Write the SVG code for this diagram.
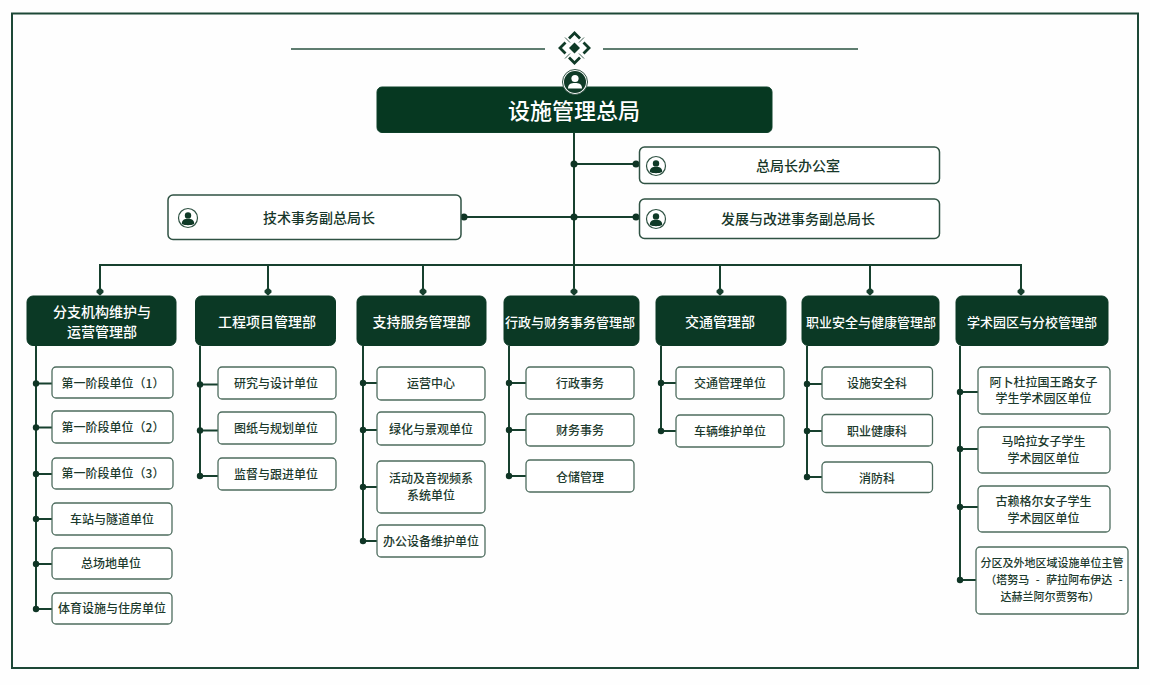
<svg xmlns="http://www.w3.org/2000/svg" xmlns:xlink="http://www.w3.org/1999/xlink" width="1150" height="685" viewBox="0 0 1150 685">
<style>
text{font-family:"Noto Sans CJK SC","Noto Sans",sans-serif;text-anchor:middle;dominant-baseline:central;font-weight:500;transform:translateY(-1px)}
.root{fill:#063821;stroke:#0d4029;stroke-width:1}
.dept{fill:#0b3925;stroke:#0b3925;stroke-width:1}
.dept-t{fill:#fff;font-size:14px}
.dept-s{fill:#fff;font-size:13px}
.side{fill:#fff;stroke:#2f5243;stroke-width:1.5}
.side-t{fill:#17372a;font-size:14px}
.unit{fill:#fff;stroke:#4d6c5e;stroke-width:1.3}
.unit-t{fill:#1c3a2d;font-size:12px}
.unit-s{fill:#1c3a2d;font-size:11px}
.conn{fill:none;stroke:#17402e;stroke-width:2}
.dot{fill:#0f3525}
.chev{fill:none;stroke:#0f3a27;stroke-width:2.800}
.tick{fill:none;stroke:#0f3a27;stroke-width:.8}
</style>
<defs>
<path id="head" d="M0 -8.500L3.500 -5.500V-3.500L0 -.2L-3.500 -3.500V-5.500Z" fill="#17402e"/>
<g id="person-dark">
<circle r="9.500" fill="#fff" stroke="#2f5243" stroke-width="1.200"/>
<circle cy="-2.600" r="3.200" fill="#0f3a27"/>
<path d="M-6.200 6C-6.200 1.800-3.400 .8 0 .8S6.200 1.800 6.200 6C3 7.600-3 7.600-6.200 6Z" fill="#0f3a27"/>
</g>
</defs>
<rect x="0" y="0" width="1150" height="685" fill="#fefefe"/>
<rect x="12" y="13.500" width="1126" height="654.500" fill="none" stroke="#1d4837" stroke-width="2"/>

<g id="ornament">
<line x1="291" y1="49" x2="545" y2="49" stroke="#2a5241" stroke-width="1.500"/>
<line x1="603" y1="49" x2="858" y2="49" stroke="#2a5241" stroke-width="1.500"/>
<path class="chev" d="M569 38.500L574.500 33L580 38.500"/>
<path class="chev" d="M569 57.500L574.500 63L580 57.500"/>
<path class="chev" d="M565.500 42.500L560 48L565.500 53.500"/>
<path class="chev" d="M583.500 42.500L589 48L583.500 53.500"/>
<path class="tick" d="M565 37.500L570 42.500M584 37.500L579 42.500M565 58.500L570 53.500M584 58.500L579 53.500"/>
<path d="M574.500 42.500L580 48L574.500 53.500L569 48Z" fill="#0f3a27"/>
</g>

<g id="connectors">
<path class="conn" d="M574 133V288"/>
<path class="conn" d="M574 164H639M464 217H639"/>
<path class="conn" d="M100 289V265H1021V289M268 265V289M423 265V289M720 265V289M870 265V289"/>
<use xlink:href="#head" href="#head" x="100" y="296"/>
<use xlink:href="#head" href="#head" x="268" y="296"/>
<use xlink:href="#head" href="#head" x="423" y="296"/>
<use xlink:href="#head" href="#head" x="574" y="296"/>
<use xlink:href="#head" href="#head" x="720" y="296"/>
<use xlink:href="#head" href="#head" x="870" y="296"/>
<use xlink:href="#head" href="#head" x="1021" y="296"/>
<g class="dot">
<circle cx="574" cy="164" r="3.500"/><circle cx="636" cy="164" r="3.500"/>
<circle cx="574" cy="217" r="3.500"/><circle cx="636" cy="217" r="3.500"/><circle cx="464" cy="217" r="3.500"/>
</g>
<path class="conn" d="M36 346V609M36 383.500H52M36 427.500H52M36 474H52M36 519H52M36 564H52M36 609H52"/>
<g class="dot"><circle cx="36" cy="383.500" r="3.200"/><circle cx="36" cy="427.500" r="3.200"/><circle cx="36" cy="474" r="3.200"/><circle cx="36" cy="519" r="3.200"/><circle cx="36" cy="564" r="3.200"/><circle cx="36" cy="609" r="3.200"/></g>
<path class="conn" d="M200 346V476M200 384.500H218M200 430.500H218M200 476H218"/>
<g class="dot"><circle cx="200" cy="384.500" r="3.200"/><circle cx="200" cy="430.500" r="3.200"/><circle cx="200" cy="476" r="3.200"/></g>
<path class="conn" d="M363 346V541M363 383H377M363 430H377M363 487H377M363 541H377"/>
<g class="dot"><circle cx="363" cy="383" r="3.200"/><circle cx="363" cy="430" r="3.200"/><circle cx="363" cy="487" r="3.200"/><circle cx="363" cy="541" r="3.200"/></g>
<path class="conn" d="M509 346V476M509 383H526M509 430H526M509 476H526"/>
<g class="dot"><circle cx="509" cy="383" r="3.200"/><circle cx="509" cy="430" r="3.200"/><circle cx="509" cy="476" r="3.200"/></g>
<path class="conn" d="M661 346V431M661 383H676M661 431H676"/>
<g class="dot"><circle cx="661" cy="383" r="3.200"/><circle cx="661" cy="431" r="3.200"/></g>
<path class="conn" d="M807 346V477M807 384H822M807 431H822M807 477H822"/>
<g class="dot"><circle cx="807" cy="384" r="3.200"/><circle cx="807" cy="431" r="3.200"/><circle cx="807" cy="477" r="3.200"/></g>
<path class="conn" d="M960 346V580M960 392H978M960 449H978M960 507H978M960 580H976"/>
<g class="dot"><circle cx="960" cy="392" r="3.200"/><circle cx="960" cy="449" r="3.200"/><circle cx="960" cy="507" r="3.200"/><circle cx="960" cy="580" r="3.200"/></g>
</g>

<g id="n-root">
<rect class="root" x="377" y="87" width="395" height="45.500" rx="5"/>
<circle cx="575" cy="82" r="12.500" fill="#fff" stroke="#2f5243" stroke-width="1"/>
<circle cx="575" cy="82" r="11" fill="#0f3a27"/>
<circle cx="575" cy="78.500" r="3.600" fill="#fff"/>
<path d="M568 88.500C568 84 571 83 575 83S582 84 582 88.500Z" fill="#fff"/>
<text x="574" y="110" fill="#fff" font-size="22">设施管理总局</text>
</g>

<g id="n-office"><rect class="side" x="639.500" y="147" width="300" height="36.500" rx="5"/><use xlink:href="#person-dark" href="#person-dark" x="656" y="166"/><text class="side-t" x="798" y="166">总局长办公室</text></g>
<g id="n-tech"><rect class="side" x="168" y="195" width="293" height="44.500" rx="5"/><use xlink:href="#person-dark" href="#person-dark" x="188" y="218"/><text class="side-t" x="319" y="218">技术事务副总局长</text></g>
<g id="n-dev"><rect class="side" x="639.500" y="199" width="300" height="39.500" rx="5"/><use xlink:href="#person-dark" href="#person-dark" x="656" y="219"/><text class="side-t" x="798" y="219">发展与改进事务副总局长</text></g>

<g id="d1"><rect class="dept" x="27" y="296" width="149" height="49.500" rx="6"/><text class="dept-t" x="102" y="312">分支机构维护与</text><text class="dept-t" x="102" y="332">运营管理部</text></g>
<g id="d2"><rect class="dept" x="195.500" y="296" width="140" height="49.500" rx="6"/><text class="dept-t" x="267" y="322">工程项目管理部</text></g>
<g id="d3"><rect class="dept" x="357" y="296" width="129" height="49.500" rx="6"/><text class="dept-t" x="421.500" y="322">支持服务管理部</text></g>
<g id="d4"><rect class="dept" x="504" y="296" width="135" height="49.500" rx="6"/><text class="dept-s" x="570" y="322">行政与财务事务管理部</text></g>
<g id="d5"><rect class="dept" x="656" y="296" width="130" height="49.500" rx="6"/><text class="dept-t" x="720" y="322">交通管理部</text></g>
<g id="d6"><rect class="dept" x="802" y="296" width="137" height="49.500" rx="6"/><text class="dept-s" x="871" y="322">职业安全与健康管理部</text></g>
<g id="d7"><rect class="dept" x="956" y="296" width="152" height="49.500" rx="6"/><text class="dept-s" x="1032" y="322">学术园区与分校管理部</text></g>

<g id="u1-1"><rect class="unit" x="52" y="367" width="121" height="31" rx="4"/><text class="unit-t" x="113" y="383">第一阶段单位（1）</text></g>
<g id="u1-2"><rect class="unit" x="52" y="411" width="121" height="32" rx="4"/><text class="unit-t" x="113" y="427">第一阶段单位（2）</text></g>
<g id="u1-3"><rect class="unit" x="52" y="458" width="121" height="31" rx="4"/><text class="unit-t" x="113" y="473.500">第一阶段单位（3）</text></g>
<g id="u1-4"><rect class="unit" x="52" y="503" width="120" height="32" rx="4"/><text class="unit-t" x="112" y="519">车站与隧道单位</text></g>
<g id="u1-5"><rect class="unit" x="52" y="548" width="120" height="31" rx="4"/><text class="unit-t" x="111" y="563.500">总场地单位</text></g>
<g id="u1-6"><rect class="unit" x="52" y="593" width="120" height="31" rx="4"/><text class="unit-t" x="112" y="608.500">体育设施与住房单位</text></g>

<g id="u2-1"><rect class="unit" x="218" y="367" width="118" height="32" rx="4"/><text class="unit-t" x="276" y="383">研究与设计单位</text></g>
<g id="u2-2"><rect class="unit" x="218" y="412" width="118" height="32" rx="4"/><text class="unit-t" x="276" y="428">图纸与规划单位</text></g>
<g id="u2-3"><rect class="unit" x="218" y="458" width="118" height="32" rx="4"/><text class="unit-t" x="276" y="474">监督与跟进单位</text></g>

<g id="u3-1"><rect class="unit" x="377" y="367" width="108" height="33" rx="4"/><text class="unit-t" x="431" y="383">运营中心</text></g>
<g id="u3-2"><rect class="unit" x="377" y="412" width="108" height="33" rx="4"/><text class="unit-t" x="431" y="429">绿化与景观单位</text></g>
<g id="u3-3"><rect class="unit" x="377" y="461" width="108" height="52" rx="4"/><text class="unit-t" x="431" y="478">活动及音视频系</text><text class="unit-t" x="431" y="495">系统单位</text></g>
<g id="u3-4"><rect class="unit" x="377" y="525" width="108" height="32" rx="4"/><text class="unit-t" x="431" y="541">办公设备维护单位</text></g>

<g id="u4-1"><rect class="unit" x="526" y="367" width="108" height="32" rx="4"/><text class="unit-t" x="580" y="383">行政事务</text></g>
<g id="u4-2"><rect class="unit" x="526" y="414" width="108" height="32" rx="4"/><text class="unit-t" x="580" y="430">财务事务</text></g>
<g id="u4-3"><rect class="unit" x="526" y="460" width="108" height="32" rx="4"/><text class="unit-t" x="580" y="477">仓储管理</text></g>

<g id="u5-1"><rect class="unit" x="676" y="367" width="108" height="32" rx="4"/><text class="unit-t" x="730" y="383">交通管理单位</text></g>
<g id="u5-2"><rect class="unit" x="676" y="415" width="108" height="32" rx="4"/><text class="unit-t" x="730" y="431">车辆维护单位</text></g>

<g id="u6-1"><rect class="unit" x="822" y="367" width="110.500" height="32" rx="4"/><text class="unit-t" x="877" y="383">设施安全科</text></g>
<g id="u6-2"><rect class="unit" x="822" y="414.500" width="110.500" height="31.500" rx="4"/><text class="unit-t" x="877" y="431">职业健康科</text></g>
<g id="u6-3"><rect class="unit" x="822" y="462" width="110.500" height="30.500" rx="4"/><text class="unit-t" x="877" y="478">消防科</text></g>

<g id="u7-1"><rect class="unit" x="978" y="367" width="132" height="47" rx="4"/><text class="unit-t" x="1043.500" y="382">阿卜杜拉国王路女子</text><text class="unit-t" x="1043.500" y="398.500">学生学术园区单位</text></g>
<g id="u7-2"><rect class="unit" x="978" y="427" width="132" height="46" rx="4"/><text class="unit-t" x="1043.500" y="441.500">马哈拉女子学生</text><text class="unit-t" x="1043.500" y="458.500">学术园区单位</text></g>
<g id="u7-3"><rect class="unit" x="978" y="486" width="132" height="46" rx="4"/><text class="unit-t" x="1043.500" y="501.500">古赖格尔女子学生</text><text class="unit-t" x="1043.500" y="518.500">学术园区单位</text></g>
<g id="u7-4"><rect class="unit" x="976" y="547" width="152" height="67" rx="4"/><text class="unit-s" x="1052" y="563">分区及外地区域设施单位主管</text><text class="unit-s" word-spacing="4" x="1054" y="580">（塔努马 - 萨拉阿布伊达 -</text><text class="unit-s" x="1050" y="597">达赫兰阿尔贾努布）</text></g>
</svg>
